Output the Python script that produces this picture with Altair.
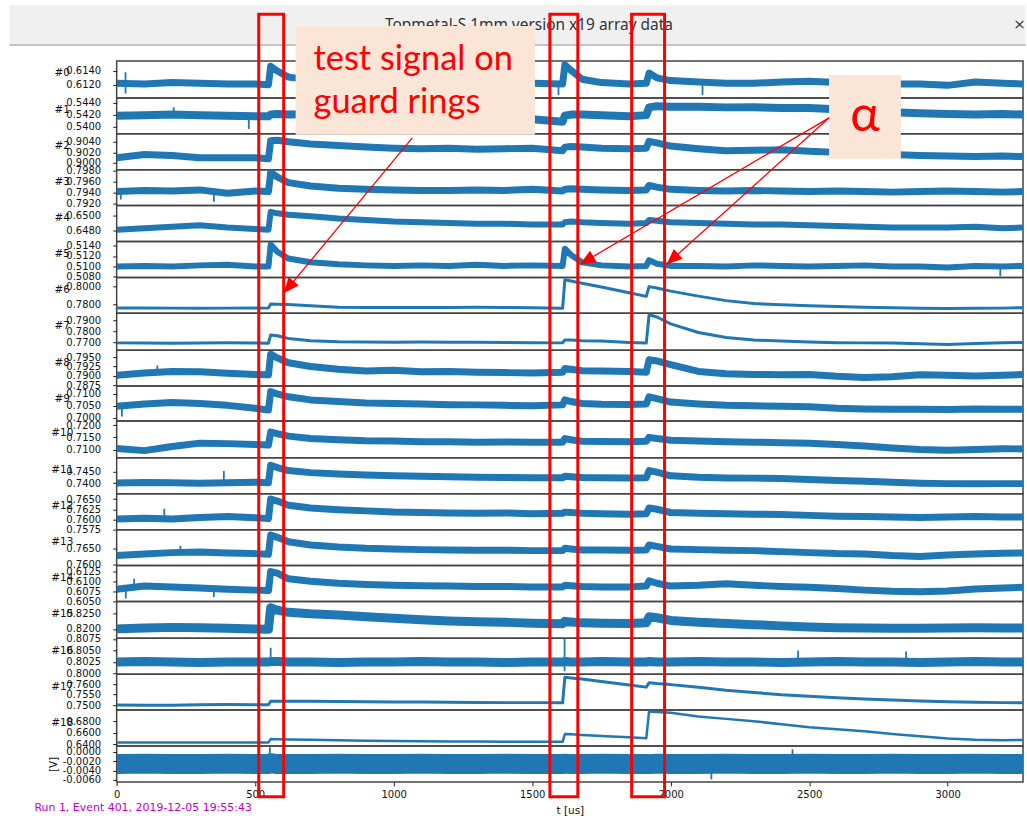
import math
import altair as alt
import pandas as pd

# ---------------- data ----------------
T = [0, 100, 200, 300, 400, 500,
     548, 556, 580, 620,
     700, 800, 900, 1000, 1100, 1200, 1300, 1400, 1500,
     1610, 1618, 1640, 1680, 1750, 1850,
     1912, 1922, 1950, 2000,
     2100, 2200, 2300, 2400, 2500, 2600, 2700, 2800, 2900, 3000, 3100, 3200, 3272]

S0 = [0.6122, 0.6121, 0.6123, 0.6122, 0.6121, 0.6121,
      0.6120, 0.6147, 0.6140, 0.6131,
      0.6127, 0.6125, 0.6124, 0.6123, 0.6124, 0.6123, 0.6122, 0.6123, 0.6122,
      0.6121, 0.6149, 0.6141, 0.6128, 0.6123, 0.6121,
      0.6122, 0.6137, 0.6130, 0.6126,
      0.6124, 0.6122, 0.6122, 0.6124, 0.6125, 0.6123, 0.6122, 0.6121, 0.6121, 0.6119, 0.6124, 0.6122, 0.6121]
S1 = [0.5418, 0.5419, 0.5420, 0.5419, 0.5418, 0.5417,
      0.5417, 0.5420, 0.5421, 0.5420,
      0.5421, 0.5419, 0.5418, 0.5418, 0.5417, 0.5416, 0.5415, 0.5414, 0.5412,
      0.5408, 0.5418, 0.5420, 0.5420, 0.5419, 0.5417,
      0.5419, 0.5432, 0.5434, 0.5433,
      0.5433, 0.5432, 0.5432, 0.5431, 0.5431, 0.5429, 0.5427, 0.5424, 0.5422, 0.5421, 0.5420, 0.5421, 0.5420]
S2 = [0.9010, 0.9016, 0.9014, 0.9010, 0.9010, 0.9010,
      0.9008, 0.9042, 0.9043, 0.9040,
      0.9036, 0.9033, 0.9030, 0.9028, 0.9027, 0.9028, 0.9026, 0.9027, 0.9028,
      0.9023, 0.9030, 0.9031, 0.9030, 0.9028, 0.9027,
      0.9028, 0.9041, 0.9038, 0.9032,
      0.9027, 0.9023, 0.9024, 0.9025, 0.9022, 0.9020, 0.9019, 0.9016, 0.9014, 0.9013, 0.9012, 0.9013, 0.9012]
S3 = [0.7942, 0.7944, 0.7943, 0.7945, 0.7939, 0.7943,
      0.7942, 0.7976, 0.7968, 0.7958,
      0.7952, 0.7948, 0.7946, 0.7945, 0.7944, 0.7944, 0.7945, 0.7944, 0.7946,
      0.7943, 0.7946, 0.7947, 0.7946, 0.7945, 0.7944,
      0.7945, 0.7953, 0.7950, 0.7946,
      0.7944, 0.7943, 0.7944, 0.7943, 0.7942, 0.7943, 0.7942, 0.7941, 0.7942, 0.7943, 0.7942, 0.7941, 0.7942]
S4 = [0.6481, 0.6483, 0.6485, 0.6487, 0.6484, 0.6482,
      0.6481, 0.6505, 0.6503, 0.6501,
      0.6499, 0.6496, 0.6494, 0.6492, 0.6491, 0.6490, 0.6489, 0.6489, 0.6488,
      0.6488, 0.6491, 0.6492, 0.6491, 0.6490, 0.6489,
      0.6490, 0.6494, 0.6493, 0.6491,
      0.6490, 0.6489, 0.6488, 0.6488, 0.6487, 0.6486, 0.6485, 0.6484, 0.6484, 0.6484, 0.6485, 0.6483, 0.6484]
S5 = [0.5100, 0.5101, 0.5100, 0.5102, 0.5103, 0.5100,
      0.5100, 0.5142, 0.5128, 0.5115,
      0.5108, 0.5104, 0.5102, 0.5101, 0.5102, 0.5101, 0.5103, 0.5101, 0.5102,
      0.5101, 0.5134, 0.5122, 0.5108, 0.5102, 0.5100,
      0.5101, 0.5112, 0.5105, 0.5101,
      0.5101, 0.5100, 0.5102, 0.5101, 0.5100, 0.5101, 0.5102, 0.5100, 0.5100, 0.5098, 0.5101, 0.5100, 0.5101]
S6 = [0.7764, 0.7763, 0.7762, 0.7760, 0.7762, 0.7763,
      0.7762, 0.7808, 0.7806, 0.7803,
      0.7788, 0.7772, 0.7770, 0.7769, 0.7770, 0.7769, 0.7771, 0.7769, 0.7765,
      0.7760, 0.8075, 0.8062, 0.8038, 0.7995, 0.7932,
      0.7892, 0.8000, 0.7985, 0.7950,
      0.7895, 0.7845, 0.7812, 0.7800, 0.7788, 0.7780, 0.7772, 0.7766, 0.7760, 0.7757, 0.7760, 0.7762, 0.7767]
S7 = [0.7696, 0.7694, 0.7693, 0.7695, 0.7697, 0.7694,
      0.7692, 0.7768, 0.7760, 0.7735,
      0.7716, 0.7706, 0.7704, 0.7702, 0.7703, 0.7702, 0.7701, 0.7700, 0.7698,
      0.7696, 0.7722, 0.7721, 0.7716, 0.7712, 0.7700,
      0.7694, 0.7950, 0.7930, 0.7868,
      0.7790, 0.7745, 0.7722, 0.7712, 0.7703, 0.7698, 0.7696, 0.7694, 0.7688, 0.7682, 0.7690, 0.7697, 0.7700]
S8 = [0.7902, 0.7908, 0.7912, 0.7911, 0.7907, 0.7904,
      0.7903, 0.7958, 0.7948, 0.7935,
      0.7925, 0.7918, 0.7913, 0.7915, 0.7911, 0.7912, 0.7910, 0.7909, 0.7908,
      0.7910, 0.7920, 0.7918, 0.7914, 0.7913, 0.7912,
      0.7910, 0.7943, 0.7940, 0.7930,
      0.7912, 0.7906, 0.7904, 0.7903, 0.7904, 0.7899, 0.7896, 0.7898, 0.7903, 0.7902, 0.7900, 0.7902, 0.7904]
S9 = [0.7048, 0.7058, 0.7064, 0.7060, 0.7052, 0.7040,
      0.7032, 0.7110, 0.7100, 0.7088,
      0.7075, 0.7068, 0.7062, 0.7060, 0.7058, 0.7055, 0.7054, 0.7052, 0.7050,
      0.7054, 0.7075, 0.7068, 0.7060, 0.7057, 0.7056,
      0.7058, 0.7088, 0.7080, 0.7066,
      0.7058, 0.7052, 0.7050, 0.7048, 0.7046, 0.7040, 0.7037, 0.7036, 0.7036, 0.7035, 0.7037, 0.7036, 0.7036]
S10 = [0.7104, 0.7095, 0.7112, 0.7126, 0.7124, 0.7120,
       0.7118, 0.7172, 0.7165, 0.7155,
       0.7145, 0.7140, 0.7136, 0.7135, 0.7132, 0.7132, 0.7130, 0.7131, 0.7130,
       0.7130, 0.7145, 0.7140, 0.7134, 0.7133, 0.7132,
       0.7134, 0.7150, 0.7145, 0.7138,
       0.7135, 0.7132, 0.7130, 0.7128, 0.7126, 0.7120, 0.7114, 0.7106, 0.7100, 0.7097, 0.7100, 0.7103, 0.7102]
S11 = [0.7401, 0.7403, 0.7402, 0.7400, 0.7402, 0.7404,
       0.7402, 0.7478, 0.7468, 0.7455,
       0.7446, 0.7440, 0.7436, 0.7432, 0.7430, 0.7428, 0.7426, 0.7425, 0.7424,
       0.7424, 0.7430, 0.7428, 0.7425, 0.7424, 0.7423,
       0.7424, 0.7455, 0.7448, 0.7432,
       0.7426, 0.7423, 0.7422, 0.7420, 0.7416, 0.7412, 0.7408, 0.7404, 0.7400, 0.7398, 0.7397, 0.7398, 0.7398]
S12 = [0.7601, 0.7603, 0.7601, 0.7605, 0.7607, 0.7604,
       0.7602, 0.7650, 0.7645, 0.7635,
       0.7628, 0.7624, 0.7621, 0.7618, 0.7617, 0.7616, 0.7615, 0.7616, 0.7614,
       0.7615, 0.7618, 0.7617, 0.7615, 0.7614, 0.7613,
       0.7614, 0.7628, 0.7625, 0.7617,
       0.7615, 0.7614, 0.7613, 0.7612, 0.7610, 0.7608, 0.7607, 0.7606, 0.7605, 0.7606, 0.7607, 0.7606, 0.7606]
S13 = [0.7628, 0.7633, 0.7637, 0.7639, 0.7636, 0.7634,
       0.7632, 0.7690, 0.7683, 0.7670,
       0.7660, 0.7654, 0.7650, 0.7648, 0.7646, 0.7645, 0.7644, 0.7644, 0.7643,
       0.7643, 0.7650, 0.7648, 0.7645, 0.7645, 0.7644,
       0.7645, 0.7660, 0.7656, 0.7648,
       0.7646, 0.7644, 0.7643, 0.7640, 0.7637, 0.7634, 0.7633, 0.7628, 0.7625, 0.7630, 0.7633, 0.7635, 0.7636]
S14 = [0.6080, 0.6088, 0.6086, 0.6083, 0.6080, 0.6078,
       0.6077, 0.6124, 0.6120, 0.6106,
       0.6100, 0.6095, 0.6092, 0.6090, 0.6089, 0.6088, 0.6087, 0.6087, 0.6086,
       0.6086, 0.6090, 0.6089, 0.6087, 0.6086, 0.6086,
       0.6088, 0.6101, 0.6095, 0.6088,
       0.6090, 0.6094, 0.6090, 0.6087, 0.6085, 0.6082, 0.6078, 0.6075, 0.6074, 0.6076, 0.6081, 0.6083, 0.6085]
S15 = [0.8200, 0.8203, 0.8205, 0.8204, 0.8202, 0.8200,
       0.8199, 0.8270, 0.8262, 0.8255,
       0.8250, 0.8246, 0.8240, 0.8235, 0.8230, 0.8226, 0.8224, 0.8222, 0.8219,
       0.8217, 0.8225, 0.8223, 0.8220, 0.8219, 0.8218,
       0.8220, 0.8240, 0.8237, 0.8228,
       0.8222, 0.8218, 0.8214, 0.8210, 0.8206, 0.8204, 0.8203, 0.8202, 0.8202, 0.8203, 0.8204, 0.8203, 0.8203]
S16 = [0.8025, 0.8026, 0.8025, 0.8024, 0.8025, 0.8025,
       0.8025, 0.8026, 0.8026, 0.8025,
       0.8025, 0.8024, 0.8025, 0.8025, 0.8026, 0.8025, 0.8025, 0.8024, 0.8025,
       0.8025, 0.8026, 0.8025, 0.8025, 0.8026, 0.8025,
       0.8025, 0.8026, 0.8025, 0.8025,
       0.8026, 0.8025, 0.8025, 0.8024, 0.8025, 0.8026, 0.8025, 0.8025, 0.8024, 0.8025, 0.8026, 0.8025, 0.8025]
S17 = [0.7501, 0.7500, 0.7499, 0.7502, 0.7503, 0.7502,
       0.7502, 0.7518, 0.7519, 0.7519,
       0.7518, 0.7517, 0.7516, 0.7515, 0.7515, 0.7514, 0.7513, 0.7512, 0.7512,
       0.7511, 0.7633, 0.7630, 0.7625, 0.7613, 0.7596,
       0.7586, 0.7607, 0.7603, 0.7598,
       0.7585, 0.7571, 0.7560, 0.7550, 0.7543, 0.7535, 0.7529, 0.7524, 0.7520, 0.7516, 0.7514, 0.7512, 0.7511]
S18 = [0.6432, 0.6431, 0.6432, 0.6433, 0.6433, 0.6433,
       0.6433, 0.6490, 0.6489, 0.6485,
       0.6478, 0.6470, 0.6463, 0.6458, 0.6454, 0.6450, 0.6447, 0.6445, 0.6443,
       0.6443, 0.6578, 0.6572, 0.6563, 0.6545, 0.6520,
       0.6503, 0.6968, 0.6960, 0.6945,
       0.6880, 0.6840, 0.6800, 0.6745, 0.6695, 0.6660, 0.6625, 0.6580, 0.6540, 0.6500, 0.6480, 0.6472, 0.6473]
S19 = [-0.0026, -0.0025, -0.0026, -0.0026, -0.0025, -0.0026,
       -0.0026, -0.0024, -0.0026, -0.0026,
       -0.0026, -0.0025, -0.0026, -0.0026, -0.0025, -0.0026, -0.0026, -0.0025, -0.0026,
       -0.0026, -0.0025, -0.0026, -0.0026, -0.0025, -0.0026,
       -0.0026, -0.0026, -0.0025, -0.0026,
       -0.0026, -0.0025, -0.0026, -0.0026, -0.0025, -0.0026, -0.0026, -0.0025, -0.0026, -0.0026, -0.0025, -0.0026, -0.0026]

SERIES = [S0, S1, S2, S3, S4, S5, S6, S7, S8, S9,
          S10, S11, S12, S13, S14, S15, S16, S17, S18, S19]
LABELS = ["#%d" % k for k in range(19)] + ["[V]"]

# isolated noise spikes seen in the picture: panel, t, low value, high value
SPIKE_PANEL = [0, 0, 0, 1, 1, 3, 3, 5, 8, 9, 11, 12, 13, 14, 14, 14,
               16, 16, 16, 16, 19, 19, 19]
SPIKE_T = [32, 1595, 2115, 206, 477, 351, 15, 3190, 147, 19, 387, 172, 230, 33, 63, 351,
           556, 1617, 2460, 2850, 553, 2147, 2440]
SPIKE_LO = [0.6107, 0.6105, 0.6105, 0.5418, 0.5396, 0.7924, 0.7928, 0.5081, 0.7908, 0.7005,
            0.7402, 0.7603, 0.7636, 0.6057, 0.6082, 0.6061,
            0.8022, 0.8005, 0.8018, 0.8018, -0.0030, -0.0059, -0.0030]
SPIKE_HI = [0.6138, 0.6121, 0.6124, 0.5432, 0.5418, 0.7942, 0.7942, 0.5100, 0.7928, 0.7048,
            0.7453, 0.7626, 0.7658, 0.6080, 0.6106, 0.6083,
            0.8056, 0.8076, 0.8050, 0.8048, 0.0010, -0.0026, 0.0006]

TICKS = [
    [0.6120, 0.6140], [0.5400, 0.5420, 0.5440], [0.9000, 0.9020, 0.9040],
    [0.7920, 0.7940, 0.7960, 0.7980], [0.6480, 0.6500], [0.5080, 0.5100, 0.5120, 0.5140],
    [0.7800, 0.8000], [0.7700, 0.7800, 0.7900], [0.7875, 0.7900, 0.7925, 0.7950],
    [0.7000, 0.7050, 0.7100], [0.7100, 0.7150, 0.7200], [0.7400, 0.7450],
    [0.7575, 0.7600, 0.7625, 0.7650], [0.7600, 0.7650], [0.6050, 0.6075, 0.6100, 0.6125],
    [0.8200, 0.8250], [0.8000, 0.8025, 0.8050, 0.8075], [0.7500, 0.7550, 0.7600],
    [0.6400, 0.6600, 0.6800], [-0.0060, -0.0040, -0.0020, 0.0000],
]
DOMAINS = [
    [0.61006, 0.61546], [0.53878, 0.54478], [0.89872, 0.90552], [0.7917, 0.7981],
    [0.64653, 0.65133], [0.5079, 0.51477], [0.7705, 0.8102], [0.763, 0.79636],
    [0.78731, 0.79686], [0.69862, 0.71333], [0.7065, 0.72179], [0.73539, 0.75103],
    [0.7575, 0.7663], [0.7598, 0.77063], [0.605, 0.61388], [0.81687, 0.8291],
    [0.79985, 0.80763], [0.74762, 0.76476], [0.63704, 0.69913], [-0.00643, 0.00128],
]
XTICKS = [0, 500, 1000, 1500, 2000, 2500, 3000]
XMAX = 3272

TITLE = "Topmetal-S 1mm version x19 array data"
FOOTER = "Run 1, Event 401, 2019-12-05 19:55:43"
BOX_TEXT = ["test signal on", "guard rings"]
ALPHA = "\u03b1"

# ---------------- style / layout ----------------
BLUE = "#1f77b4"
SW = [7, 8, 7, 7, 6, 6, 3, 3, 7, 7, 7, 7, 7, 7, 7, 9, 9, 3, 2.5, 20]
HEIGHTS = [37, 36, 36, 36, 36, 36, 36, 37, 36, 35, 37, 36, 36, 36, 36, 37, 36, 36, 36, 36]
LEFT, TOP = 115.5, 59.0
W = 909
OX, OY = LEFT, TOP + sum(HEIGHTS[:19])  # page position of the last panel's origin
FS = 10


def lx(v):
    return v - OX


def ly(v):
    return v - OY


def px_enc(df):
    enc = dict(x=alt.X("x:Q", scale=None, axis=None), y=alt.Y("y:Q", scale=None, axis=None))
    if "x2" in df:
        enc["x2"] = alt.X2("x2:Q")
    if "y2" in df:
        enc["y2"] = alt.Y2("y2:Q")
    return enc


def rects(x1, x2, y1, y2, **mk):
    df = pd.DataFrame({"x": [lx(v) for v in x1], "x2": [lx(v) for v in x2],
                       "y": [ly(v) for v in y1], "y2": [ly(v) for v in y2]})
    return alt.Chart(df).mark_rect(**mk).encode(**px_enc(df))


def texts(xs, ys, ss, **mk):
    df = pd.DataFrame({"x": [lx(v) for v in xs], "y": [ly(v) for v in ys], "s": ss})
    return alt.Chart(df).mark_text(**mk).encode(text="s:N", **px_enc(df))


def arrows(x1, y1, x2, y2):
    df = pd.DataFrame({"x": [lx(v) for v in x1], "y": [ly(v) for v in y1],
                       "x2": [lx(v) for v in x2], "y2": [ly(v) for v in y2]})
    lines = alt.Chart(df).mark_rule(color="red", strokeWidth=1.3).encode(**px_enc(df))
    ang = [math.degrees(math.atan2(b - a, -(d - c))) % 360
           for a, b, c, d in zip(x1, x2, y1, y2)]
    hd = pd.DataFrame({"x": [lx(v) for v in x2], "y": [ly(v) for v in y2], "a": ang})
    heads = alt.Chart(hd).mark_point(shape="M0,0L-0.42,1L0.42,1Z", filled=True, size=1000,
                                     color="red", opacity=1).encode(
        x=alt.X("x:Q", scale=None, axis=None), y=alt.Y("y:Q", scale=None, axis=None),
        angle=alt.Angle("a:Q", scale=None))
    return [lines, heads]


def annotations():
    layers = []
    # full-page frame (pins the page layout), invisible
    layers.append(rects([0], [1027], [0], [816], opacity=0))
    # window title bar
    layers.append(rects([8], [1027], [3], [42], color="#f0f0f0"))
    layers.append(rects([8], [1027], [42], [44], color="#c4c4c4"))
    layers.append(texts([529], [23], [TITLE], font="Noto Sans", fontSize=15.5, color="#333333",
                        align="center", baseline="middle"))
    layers.append(texts([1021], [22], ["\u00d7"], font="DejaVu Sans", fontSize=15, color="#333333",
                        align="center", baseline="middle"))
    # footer
    layers.append(texts([33], [811], [FOOTER], font="DejaVu Sans", fontSize=11, color="#bf00bf",
                        align="left", baseline="alphabetic"))
    # red frames
    layers.append(rects([258, 550, 632], [283, 578, 665], [12, 12, 12], [797, 797, 797],
                        fill="transparent", stroke="red", strokeWidth=3))
    # text boxes
    layers.append(rects([295, 830], [535, 902], [24, 73], [133, 157], color="#fbe5d6"))
    layers.append(texts([313, 313], [68, 111], BOX_TEXT, font="Lato", fontSize=34.5, color="red",
                        align="left", baseline="alphabetic"))
    layers.append(texts([866], [129], [ALPHA], font="Lato", fontSize=50, color="red",
                        align="center", baseline="alphabetic"))
    # arrows
    layers += arrows([412, 830, 830], [136, 116, 116], [283, 580, 667], [292, 263, 263])
    return layers


panels = []
for k in range(20):
    df = pd.DataFrame({"t": T, "v": SERIES[k]})
    last = k == 19
    yaxis = alt.Axis(
        values=TICKS[k], format=".4f",
        labelExpr="replace(datum.label, '\u2212', '-')",
        title=LABELS[k],
        titleAngle=270 if last else 0,
        titleAlign="center", titleBaseline="middle",
        titleX=-63 if last else -55,
        titleY=HEIGHTS[k] / 2 if last else 12,
        labelOverlap=False, domain=False, grid=False,
        tickSize=4, labelPadding=12, labelBaseline="middle",
    )
    x_scale = alt.Scale(domain=[0, XMAX], nice=False, zero=False)
    y_scale = alt.Scale(domain=DOMAINS[k], nice=False, zero=False)
    if last:
        xaxis = alt.Axis(
            values=XTICKS, format="d", labelFlush=False, title="t [us]", labelOverlap=False,
            domain=False, grid=False, tickSize=4, labelPadding=4, titlePadding=6)
    else:
        xaxis = None
    line = alt.Chart(df).mark_line(color=BLUE, strokeWidth=SW[k], clip=True,
                                   strokeJoin="round").encode(
        x=alt.X("t:Q", scale=x_scale, axis=xaxis),
        y=alt.Y("v:Q", scale=y_scale, axis=yaxis))
    layers = [line]
    sp = [(t, lo, hi) for p, t, lo, hi in zip(SPIKE_PANEL, SPIKE_T, SPIKE_LO, SPIKE_HI) if p == k]
    if sp:
        sdf = pd.DataFrame({"t": [s[0] for s in sp], "v": [s[1] for s in sp], "hi": [s[2] for s in sp]})
        layers.append(alt.Chart(sdf).mark_rule(color=BLUE, strokeWidth=1.8, clip=True).encode(
            x=alt.X("t:Q", scale=x_scale, axis=xaxis),
            y=alt.Y("v:Q", scale=y_scale, axis=yaxis), y2="hi:Q"))
    if last:
        layers += annotations()
    panel = alt.layer(*layers) if len(layers) > 1 else line
    panels.append(panel.properties(width=W, height=HEIGHTS[k]))

chart = alt.vconcat(*panels, spacing=0, bounds="flush").properties(
    padding=0, autosize=alt.AutoSizeParams(type="pad"), background="white"
).configure_view(
    stroke="#444444", strokeWidth=1.5
).configure_axis(
    labelFont="DejaVu Sans", titleFont="DejaVu Sans", labelFontSize=FS, titleFontSize=FS + 0.5,
    titleFontWeight="normal", labelColor="#111111", titleColor="#111111", tickColor="#222222"
)

chart.save("out.html", embed_options={"renderer": "svg", "actions": False})
